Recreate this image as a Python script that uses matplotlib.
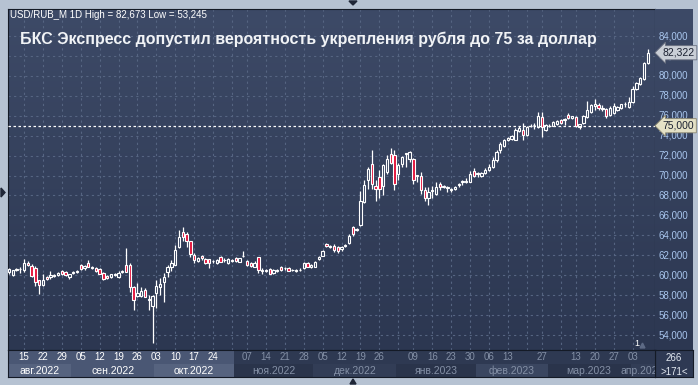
import numpy as np
import matplotlib
matplotlib.use("Agg")
import matplotlib.pyplot as plt
from matplotlib.colors import LinearSegmentedColormap
from matplotlib.patches import Polygon

plt.rcParams['font.family'] = ['Liberation Sans', 'DejaVu Sans']

# daily USD/RUB candles, 9 Aug 2022 .. 7 Apr 2023 (bar index 0..169)
opens = [
    60.30, 60.00, 60.55, 60.60, 60.50, 61.25, 60.90, 60.75, 59.50, 59.05,
    59.80, 59.80, 59.95, 60.00, 60.40, 60.30, 59.85, 60.25, 60.35, 61.05,
    60.70, 61.25, 60.80, 60.70, 60.60, 60.25, 59.90, 59.80, 60.05, 59.80,
    60.30, 61.05, 61.05, 58.85, 57.95, 57.90, 58.50, 57.55, 56.90, 58.20,
    58.80, 59.30, 60.35, 60.85, 61.00, 62.85, 64.30, 64.15, 63.45, 62.00,
    61.45, 61.90, 61.60, 61.60, 61.40, 61.20, 61.85, 61.50, 61.25, 61.45,
    61.70, 61.35, 61.90, 61.45, 61.25, 60.85, 61.80, 60.45, 60.45, 60.60,
    60.20, 60.45, 60.85, 60.70, 60.70, 60.50, 60.45, 60.50, 60.70, 61.20,
    60.80, 60.85, 61.60, 61.95, 63.10, 62.85, 62.95, 62.80, 62.60, 62.95,
    63.25, 64.80, 64.55, 65.00, 67.30, 69.60, 71.20, 68.95, 69.90, 69.00,
    70.40, 72.20, 72.10, 70.20, 71.20, 72.15, 71.70, 71.70, 70.05, 69.95,
    68.60, 67.70, 68.45, 68.20, 69.20, 69.00, 68.75, 68.60, 68.70, 69.10,
    69.35, 69.40, 69.40, 70.45, 70.15, 70.00, 70.30, 70.60, 70.90, 71.60,
    72.60, 73.00, 73.60, 73.70, 73.60, 74.50, 74.60, 74.10, 74.95, 75.05,
    74.85, 75.90, 74.60, 74.95, 75.00, 75.20, 75.60, 75.60, 76.10, 75.75,
    75.85, 74.85, 75.30, 75.85, 76.40, 77.00, 77.10, 76.70, 76.65, 76.10,
    76.30, 76.60, 76.75, 77.15, 76.90, 77.40, 78.65, 79.20, 79.65, 81.25,
]
highs = [
    60.70, 60.55, 60.70, 60.85, 61.65, 61.40, 61.10, 60.90, 59.55, 60.10,
    59.95, 60.45, 60.10, 60.35, 60.50, 60.40, 60.15, 60.40, 60.50, 61.15,
    61.00, 61.50, 60.95, 60.80, 60.70, 60.30, 60.00, 60.15, 60.25, 60.45,
    60.50, 62.70, 61.20, 58.90, 59.20, 58.80, 58.75, 58.00, 58.00, 59.50,
    59.70, 60.20, 61.00, 61.50, 63.00, 64.55, 64.80, 64.30, 63.45, 62.25,
    61.80, 62.00, 61.70, 61.65, 61.55, 61.60, 61.95, 61.70, 61.70, 61.60,
    61.80, 61.75, 62.40, 61.55, 61.35, 61.40, 61.85, 60.70, 60.60, 60.70,
    60.60, 60.60, 60.90, 60.85, 60.80, 60.65, 60.60, 60.70, 61.30, 61.30,
    61.10, 61.45, 61.95, 62.55, 63.25, 63.05, 63.10, 62.95, 62.95, 63.15,
    64.10, 64.95, 64.70, 68.50, 69.55, 70.90, 72.60, 69.55, 70.55, 71.20,
    72.10, 72.80, 72.60, 71.30, 71.95, 72.30, 72.50, 71.75, 70.10, 70.40,
    68.90, 68.90, 68.95, 69.40, 69.40, 69.10, 68.95, 68.80, 69.00, 69.30,
    69.60, 69.80, 70.45, 70.75, 70.40, 70.40, 70.80, 71.20, 71.90, 72.60,
    73.40, 73.70, 73.90, 74.05, 74.80, 74.95, 75.30, 74.95, 75.15, 75.25,
    76.40, 76.40, 75.20, 75.20, 75.45, 75.60, 75.70, 75.75, 76.30, 76.00,
    75.98, 75.20, 76.05, 77.50, 77.15, 77.65, 77.25, 77.10, 76.75, 76.95,
    77.25, 76.95, 77.20, 77.40, 77.90, 79.00, 79.40, 79.85, 81.35, 82.67,
]
lows = [
    60.15, 59.90, 60.45, 60.20, 60.35, 60.95, 59.85, 58.90, 58.10, 58.95,
    59.50, 59.60, 59.80, 59.90, 60.00, 59.95, 59.60, 60.15, 60.20, 60.50,
    60.55, 60.80, 60.65, 60.35, 60.10, 59.55, 59.60, 59.70, 59.90, 59.70,
    60.20, 60.30, 58.35, 56.50, 57.80, 57.80, 57.80, 56.50, 53.25, 56.70,
    58.00, 57.30, 59.85, 60.40, 61.00, 62.70, 63.40, 62.85, 61.85, 61.25,
    61.35, 61.55, 61.15, 60.70, 61.25, 61.10, 61.30, 61.35, 61.15, 61.30,
    61.35, 61.30, 61.85, 60.95, 60.85, 60.80, 60.25, 60.10, 60.35, 60.10,
    60.10, 60.35, 60.45, 60.55, 60.40, 60.40, 60.35, 60.40, 60.60, 60.80,
    60.70, 60.80, 61.50, 61.90, 62.80, 62.70, 62.35, 62.20, 62.40, 62.85,
    63.10, 63.90, 64.40, 64.95, 67.20, 68.70, 68.70, 67.40, 67.70, 68.00,
    70.20, 71.20, 68.55, 69.55, 70.90, 70.90, 71.40, 69.20, 69.40, 68.15,
    67.40, 67.00, 67.70, 68.05, 68.55, 68.80, 68.40, 68.40, 68.60, 68.90,
    69.05, 69.30, 69.35, 69.90, 69.90, 69.90, 70.20, 70.50, 70.80, 71.40,
    72.30, 72.90, 73.45, 73.60, 73.55, 74.40, 73.60, 74.00, 74.85, 74.70,
    74.75, 73.90, 74.50, 74.85, 74.95, 75.10, 75.20, 75.10, 75.70, 75.65,
    74.85, 74.65, 75.20, 75.75, 76.25, 76.60, 76.60, 76.50, 75.75, 75.95,
    76.20, 76.50, 76.65, 76.90, 76.80, 77.25, 78.55, 79.10, 79.60, 81.20,
]
closes = [
    60.60, 60.50, 60.60, 60.65, 61.20, 61.00, 59.90, 59.30, 59.00, 59.50,
    59.60, 60.00, 60.00, 60.25, 60.10, 60.05, 60.10, 60.30, 60.40, 60.60,
    60.95, 60.85, 60.75, 60.40, 60.15, 59.60, 59.70, 60.10, 60.10, 60.25,
    60.40, 60.35, 58.85, 57.50, 58.25, 58.45, 57.85, 57.65, 57.90, 58.90,
    59.10, 59.80, 60.80, 61.20, 62.55, 63.80, 63.80, 63.45, 62.10, 61.50,
    61.70, 61.70, 61.20, 61.20, 61.45, 61.50, 61.35, 61.55, 61.60, 61.50,
    61.40, 61.70, 61.95, 61.00, 60.90, 61.25, 60.50, 60.50, 60.50, 60.10,
    60.50, 60.50, 60.50, 60.70, 60.45, 60.55, 60.50, 60.55, 61.20, 60.85,
    61.05, 61.35, 61.85, 62.45, 62.90, 62.90, 62.50, 62.40, 62.85, 63.00,
    63.95, 64.10, 64.65, 67.40, 69.05, 70.70, 69.20, 68.70, 68.70, 71.05,
    71.70, 71.30, 69.20, 71.05, 71.90, 72.25, 72.40, 69.60, 69.95, 68.60,
    67.70, 68.40, 68.55, 68.90, 68.90, 68.90, 68.80, 68.65, 68.90, 69.15,
    69.40, 69.45, 70.15, 69.95, 70.20, 70.30, 70.60, 70.90, 71.60, 72.40,
    73.20, 73.55, 73.80, 73.95, 74.60, 74.80, 74.10, 74.85, 75.00, 75.10,
    76.00, 74.85, 75.10, 75.00, 75.40, 75.50, 75.30, 75.65, 75.75, 75.95,
    74.95, 75.15, 75.95, 76.60, 77.10, 77.20, 76.75, 76.75, 76.00, 76.80,
    77.00, 76.85, 77.15, 77.20, 77.40, 78.65, 79.25, 79.75, 81.25, 82.32,
]

# first trading day of each week (grid lines) and the labelled ones
week_idx = [4, 9, 14, 19, 24, 29, 34, 39, 44, 49, 54, 59, 63, 68, 73, 78, 83,
            88, 93, 98, 103, 107, 112, 117, 122, 127, 132, 137, 141, 146, 150,
            155, 160, 165]
day_idx = [4, 9, 14, 19, 24, 29, 34, 39, 44, 49, 54, 63, 68, 73, 78, 83, 88,
           93, 98, 107, 112, 117, 122, 127, 132, 141, 150, 155, 160, 165]
day_lbl = ['15', '22', '29', '05', '12', '19', '26', '03', '10', '17', '24',
           '07', '14', '21', '28', '05', '12', '19', '26', '09', '16', '23',
           '30', '06', '13', '27', '13', '20', '27', '03']
month_lbl = ['авг.2022', 'сен.2022', 'окт.2022', 'ноя.2022', 'дек.2022',
             'янв.2023', 'фев.2023', 'мар.2023', 'апр.2023']
month_start = [-0.5, 16.5, 38.5, 59.5, 80.5, 102.5, 123.5, 142.5, 164.5]
price_ticks = list(range(54, 86, 2))
last_price = 82.322
level = 75.0

title = "БКС Экспресс допустил вероятность укрепления рубля до 75 за доллар"
header = "USD/RUB_M 1D High = 82,673 Low = 53,245"

W, H = 698, 385
fig = plt.figure(figsize=(W / 100, H / 100), dpi=100)
fig.patch.set_facecolor('#b6c2d2')


def px_axes(x0, y0, x1, y1):
    return fig.add_axes([x0 / W, 1 - y1 / H, (x1 - x0) / W, (y1 - y0) / H])


def fx(x):
    return x / W


def fy(y):
    return 1 - y / H


xlim = (-0.24, 170.93)
ylim = (52.50, 86.71)
bg = LinearSegmentedColormap.from_list('bg', ['#3d4a67', '#2c3751'])
grad = np.linspace(0, 1, 256).reshape(-1, 1)

# ---- main price panel
ax = px_axes(8, 9, 655, 350)
ax.imshow(grad, cmap=bg, extent=[*xlim, *ylim], aspect='auto', zorder=0)
ax.set_xlim(*xlim)
ax.set_ylim(*ylim)
ax.set_xticks(week_idx)
ax.set_yticks(price_ticks)
ax.tick_params(length=0, labelbottom=False, labelleft=False)
ax.grid(True, color='#566582', lw=0.8, ls=(0, (2, 3)))
for s in ax.spines.values():
    s.set_color('#141a26')

x = np.arange(len(closes))
o = np.array(opens)
c = np.array(closes)
up = c >= o
body_lo = np.minimum(o, c)
body_h = np.maximum(np.abs(c - o), 0.06)
ax.vlines(x, lows, highs, color='white', lw=0.9, zorder=3)
ax.bar(x, body_h, bottom=body_lo, width=0.62,
       color=np.where(up, '#34415d', '#e3123b'),
       edgecolor='white', lw=0.8, zorder=4)
ax.axhline(level, color='white', lw=0.9, ls=(0, (2, 2)), zorder=5)

fig.text(fx(10), fy(15), header, color='white', fontsize=7, va='center')
fig.text(fx(20), fy(39), title, color='#f1f3f6', fontsize=11.5,
         weight='bold', va='center')
ax.text(166.0, 53.2, '1', color='white', fontsize=6.5, ha='center', va='center')
ax.plot([167.4], [53.0], marker='^', ms=3.5, color='#5d6a85', zorder=6)

# ---- right price scale
axr = px_axes(655, 9, 693, 350)
axr.imshow(grad, cmap=bg, extent=[0, 1, *ylim], aspect='auto', zorder=0)
axr.set_xlim(0, 1)
axr.set_ylim(*ylim)
axr.axis('off')
for p in price_ticks:
    axr.text(0.1, p, f"{p},000", color='#a9c6ee', fontsize=7, va='center',
             zorder=2)
tag = dict(color='#1a2030', fontsize=7.5, va='center', zorder=5)
axr.text(0.2, last_price, f"{last_price:.3f}".replace('.', ','), **tag,
         bbox=dict(boxstyle='larrow,pad=0.2', fc='#c9ced6', ec='#6a7080', lw=0.6))
axr.text(0.2, level, f"{level:.3f}".replace('.', ','), **tag,
         bbox=dict(boxstyle='larrow,pad=0.2', fc='#e4e1c6', ec='#8a8670', lw=0.6))

# ---- bottom-right counter
axc = px_axes(655, 350, 693, 377)
axc.set_facecolor('#2e3953')
axc.set_xticks([])
axc.set_yticks([])
for s in axc.spines.values():
    s.set_color('#141a26')
axc.text(0.5, 0.72, '266', color='#e2e8f0', fontsize=7, ha='center', va='center')
axc.text(0.5, 0.2, '>171<', color='#e2e8f0', fontsize=7, ha='center', va='center')

# ---- date panel
axd = px_axes(8, 350, 655, 377)
axd.set_xlim(*xlim)
axd.set_ylim(0, 1)
axd.set_facecolor('#2e3952')
axd.set_xticks([])
axd.set_yticks([])
for s in axd.spines.values():
    s.set_color('#141a26')
axd.axvspan(xlim[0], 59.5, ymin=0.48, ymax=1, color='#4a5774', lw=0)
month_end = month_start[1:] + [xlim[1] + 5]
month_col = ['#56637f', '#4a5774', '#56637f', '#2a344b', '#323d56',
             '#2a344b', '#3a4660', '#2a344b', '#323d56']
for i, lbl in enumerate(month_lbl):
    a, b = month_start[i], month_end[i]
    axd.axvspan(a, b, ymin=0, ymax=0.48, color=month_col[i], lw=0)
    axd.text((a + b) / 2 if i < 8 else a + 3, 0.24, lbl,
             color='white' if i < 3 else '#8490a6', fontsize=7.5,
             ha='center', va='center', clip_on=True)
for i, lbl in zip(day_idx, day_lbl):
    axd.text(i, 0.73, lbl, color='white' if i < 60 else '#8490a6',
             fontsize=7, ha='center', va='center')

# frame arrows
tri = dict(color='#1f2637', transform=fig.transFigure, clip_on=False)
fig.add_artist(Polygon([(fx(349), fy(1)), (fx(357), fy(1)), (fx(353), fy(5))], **tri))
fig.add_artist(Polygon([(fx(350), fy(384)), (fx(356), fy(384)), (fx(353), fy(379))], **tri))
fig.add_artist(Polygon([(fx(1), fy(188)), (fx(1), fy(197)), (fx(5), fy(192.5))], **tri))

fig.savefig('out.png', dpi=100, facecolor=fig.get_facecolor())
